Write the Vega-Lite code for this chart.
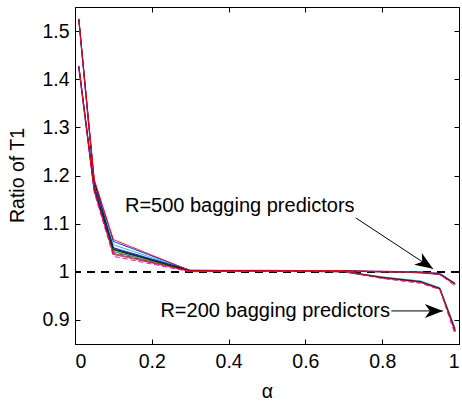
{
  "$schema": "https://vega.github.io/schema/vega-lite/v6.json",
  "width": 384,
  "height": 337,
  "autosize": "none",
  "padding": {"left": 75, "top": 7, "right": 3, "bottom": 58},
  "background": "white",
  "config": {
    "view": {"stroke": "black", "strokeWidth": 1},
    "axis": {
      "grid": false, "domainColor": "black", "tickColor": "black", "labelColor": "black", "titleColor": "black",
      "labelFont": "Liberation Sans", "titleFont": "Liberation Sans", "labelFontSize": 19.5, "titleFontSize": 19.5,
      "titleFontWeight": "normal", "tickSize": -5, "domainWidth": 1, "tickWidth": 1
    }
  },
  "datasets": {
    "curves": [
      {"series":"A1","alpha":0.01,"ratio":1.524},{"series":"A1","alpha":0.05,"ratio":1.19},{"series":"A1","alpha":0.1,"ratio":1.063},{"series":"A1","alpha":0.3,"ratio":1.003},{"series":"A1","alpha":0.5,"ratio":1.003},{"series":"A1","alpha":0.7,"ratio":1.002},{"series":"A1","alpha":0.8,"ratio":1.001},{"series":"A1","alpha":0.9,"ratio":1.0},{"series":"A1","alpha":0.95,"ratio":0.997},{"series":"A1","alpha":0.99,"ratio":0.976},
      {"series":"A2","alpha":0.01,"ratio":1.522},{"series":"A2","alpha":0.05,"ratio":1.186},{"series":"A2","alpha":0.1,"ratio":1.056},{"series":"A2","alpha":0.3,"ratio":1.003},{"series":"A2","alpha":0.5,"ratio":1.002},{"series":"A2","alpha":0.7,"ratio":1.002},{"series":"A2","alpha":0.8,"ratio":1.001},{"series":"A2","alpha":0.9,"ratio":0.999},{"series":"A2","alpha":0.95,"ratio":0.996},{"series":"A2","alpha":0.99,"ratio":0.975},
      {"series":"A3","alpha":0.01,"ratio":1.523},{"series":"A3","alpha":0.05,"ratio":1.18},{"series":"A3","alpha":0.1,"ratio":1.042},{"series":"A3","alpha":0.3,"ratio":1.002},{"series":"A3","alpha":0.5,"ratio":1.002},{"series":"A3","alpha":0.7,"ratio":1.001},{"series":"A3","alpha":0.8,"ratio":1.0},{"series":"A3","alpha":0.9,"ratio":0.999},{"series":"A3","alpha":0.95,"ratio":0.995},{"series":"A3","alpha":0.99,"ratio":0.974},
      {"series":"A4","alpha":0.01,"ratio":1.525},{"series":"A4","alpha":0.05,"ratio":1.188},{"series":"A4","alpha":0.1,"ratio":1.048},{"series":"A4","alpha":0.3,"ratio":1.002},{"series":"A4","alpha":0.5,"ratio":1.002},{"series":"A4","alpha":0.7,"ratio":1.002},{"series":"A4","alpha":0.8,"ratio":1.0},{"series":"A4","alpha":0.9,"ratio":0.998},{"series":"A4","alpha":0.95,"ratio":0.995},{"series":"A4","alpha":0.99,"ratio":0.975},
      {"series":"A5","alpha":0.01,"ratio":1.52},{"series":"A5","alpha":0.05,"ratio":1.18},{"series":"A5","alpha":0.1,"ratio":1.04},{"series":"A5","alpha":0.3,"ratio":1.001},{"series":"A5","alpha":0.5,"ratio":1.002},{"series":"A5","alpha":0.7,"ratio":1.001},{"series":"A5","alpha":0.8,"ratio":1.0},{"series":"A5","alpha":0.9,"ratio":0.998},{"series":"A5","alpha":0.95,"ratio":0.995},{"series":"A5","alpha":0.99,"ratio":0.97},
      {"series":"B1","alpha":0.01,"ratio":1.427},{"series":"B1","alpha":0.05,"ratio":1.176},{"series":"B1","alpha":0.1,"ratio":1.05},{"series":"B1","alpha":0.3,"ratio":1.003},{"series":"B1","alpha":0.5,"ratio":1.002},{"series":"B1","alpha":0.7,"ratio":1.001},{"series":"B1","alpha":0.8,"ratio":0.989},{"series":"B1","alpha":0.9,"ratio":0.98},{"series":"B1","alpha":0.95,"ratio":0.966},{"series":"B1","alpha":0.99,"ratio":0.882},
      {"series":"B2","alpha":0.01,"ratio":1.425},{"series":"B2","alpha":0.05,"ratio":1.172},{"series":"B2","alpha":0.1,"ratio":1.045},{"series":"B2","alpha":0.3,"ratio":1.002},{"series":"B2","alpha":0.5,"ratio":1.002},{"series":"B2","alpha":0.7,"ratio":1.001},{"series":"B2","alpha":0.8,"ratio":0.989},{"series":"B2","alpha":0.9,"ratio":0.981},{"series":"B2","alpha":0.95,"ratio":0.967},{"series":"B2","alpha":0.99,"ratio":0.88},
      {"series":"B3","alpha":0.01,"ratio":1.424},{"series":"B3","alpha":0.05,"ratio":1.17},{"series":"B3","alpha":0.1,"ratio":1.038},{"series":"B3","alpha":0.3,"ratio":1.002},{"series":"B3","alpha":0.5,"ratio":1.001},{"series":"B3","alpha":0.7,"ratio":1.0},{"series":"B3","alpha":0.8,"ratio":0.988},{"series":"B3","alpha":0.9,"ratio":0.979},{"series":"B3","alpha":0.95,"ratio":0.965},{"series":"B3","alpha":0.99,"ratio":0.878},
      {"series":"B4","alpha":0.01,"ratio":1.426},{"series":"B4","alpha":0.05,"ratio":1.172},{"series":"B4","alpha":0.1,"ratio":1.046},{"series":"B4","alpha":0.3,"ratio":1.002},{"series":"B4","alpha":0.5,"ratio":1.002},{"series":"B4","alpha":0.7,"ratio":1.0},{"series":"B4","alpha":0.8,"ratio":0.988},{"series":"B4","alpha":0.9,"ratio":0.979},{"series":"B4","alpha":0.95,"ratio":0.965},{"series":"B4","alpha":0.99,"ratio":0.877},
      {"series":"B5","alpha":0.01,"ratio":1.42},{"series":"B5","alpha":0.05,"ratio":1.165},{"series":"B5","alpha":0.1,"ratio":1.032},{"series":"B5","alpha":0.3,"ratio":1.0},{"series":"B5","alpha":0.5,"ratio":1.001},{"series":"B5","alpha":0.7,"ratio":1.0},{"series":"B5","alpha":0.8,"ratio":0.986},{"series":"B5","alpha":0.9,"ratio":0.976},{"series":"B5","alpha":0.95,"ratio":0.963},{"series":"B5","alpha":0.99,"ratio":0.869},
      {"series":"A6","alpha":0.01,"ratio":1.526},{"series":"A6","alpha":0.05,"ratio":1.192},{"series":"A6","alpha":0.1,"ratio":1.067},{"series":"A6","alpha":0.3,"ratio":1.002},{"series":"A6","alpha":0.5,"ratio":1.002},{"series":"A6","alpha":0.7,"ratio":1.002},{"series":"A6","alpha":0.8,"ratio":1.0},{"series":"A6","alpha":0.9,"ratio":0.998},{"series":"A6","alpha":0.95,"ratio":0.994},{"series":"A6","alpha":0.99,"ratio":0.974},
      {"series":"B6","alpha":0.01,"ratio":1.428},{"series":"B6","alpha":0.05,"ratio":1.168},{"series":"B6","alpha":0.1,"ratio":1.036},{"series":"B6","alpha":0.3,"ratio":1.001},{"series":"B6","alpha":0.5,"ratio":1.002},{"series":"B6","alpha":0.7,"ratio":1.001},{"series":"B6","alpha":0.8,"ratio":0.987},{"series":"B6","alpha":0.9,"ratio":0.978},{"series":"B6","alpha":0.95,"ratio":0.964},{"series":"B6","alpha":0.99,"ratio":0.875}
    ],
    "labels": [
      {"label": "R=500", "alpha": 0.429, "ratio": 1.1245, "text": "R=500 bagging predictors"},
      {"label": "R=200", "alpha": 0.5214, "ratio": 0.9068, "text": "R=200 bagging predictors"}
    ],
    "arrows": [
      {"label": "R=500", "x": 0.731, "y": 1.112, "tipx": 0.9323, "tipy": 1.0062},
      {"label": "R=200", "x": 0.824, "y": 0.9187, "tipx": 0.958, "tipy": 0.9187}
    ]
  },
  "layer": [
    {
      "data": {"name": "curves"},
      "mark": {"type": "rule", "color": "black", "strokeWidth": 0.8, "strokeDash": [8, 6]},
      "encoding": {
        "y": {"datum": 1, "type": "quantitative", "scale": {"domain": [0.85, 1.55], "nice": false, "zero": false}, "axis": null}
      }
    },
    {
      "data": {"name": "curves"},
      "mark": {"type": "line", "strokeWidth": 1},
      "encoding": {
        "x": {"field": "alpha", "type": "quantitative", "scale": {"domain": [0, 1], "nice": false, "zero": false},
              "axis": {"orient": "bottom", "values": [0, 0.2, 0.4, 0.6, 0.8, 1], "format": "~g", "labelPadding": 13, "title": "α", "titleY": 53, "titleBaseline": "alphabetic"}},
        "y": {"field": "ratio", "type": "quantitative", "scale": {"domain": [0.85, 1.55], "nice": false, "zero": false},
              "axis": {"orient": "left", "values": [0.9, 1, 1.1, 1.2, 1.3, 1.4, 1.5], "format": "~g", "labelPadding": 11, "title": "Ratio of T1", "titleX": -58, "titleY": 168, "titleBaseline": "middle"}},
        "color": {"field": "series", "type": "nominal", "legend": null,
                  "scale": {"domain": ["A1","A2","A3","A4","A5","A6","B1","B2","B3","B4","B5","B6"],
                            "range": ["#0000ff","#00bfbf","#008000","#000000","#ff00ff","#ff0000","#0000ff","#00bfbf","#008000","#000000","#ff00ff","#ff0000"]}},
        "strokeDash": {"field": "series", "type": "nominal", "legend": null,
                  "scale": {"domain": ["A1","A2","A3","A4","A5","A6","B1","B2","B3","B4","B5","B6"],
                            "range": [[1,0],[1,0],[1,0],[1,0],[5,3],[1,0],[1,0],[1,0],[1,0],[1,0],[5,3],[1,0]]}}
      }
    },
    {
      "data": {"name": "arrows"},
      "mark": {"type": "rule", "color": "black", "strokeWidth": 1},
      "encoding": {
        "x": {"field": "x", "type": "quantitative", "scale": {"domain": [0, 1], "nice": false, "zero": false}, "axis": null},
        "y": {"field": "y", "type": "quantitative", "scale": {"domain": [0.85, 1.55], "nice": false, "zero": false}, "axis": null},
        "x2": {"field": "tipx"},
        "y2": {"field": "tipy"}
      }
    },
    {
      "data": {"name": "arrows"},
      "transform": [{"filter": "datum.label === 'R=500'"}],
      "mark": {"type": "point", "shape": "M0,0L-1.8,-0.7L-1.3,0L-1.8,0.7Z", "size": 400, "angle": 33.4, "filled": true, "color": "black", "opacity": 1, "strokeWidth": 0},
      "encoding": {
        "x": {"field": "tipx", "type": "quantitative", "scale": {"domain": [0, 1], "nice": false, "zero": false}, "axis": null},
        "y": {"field": "tipy", "type": "quantitative", "scale": {"domain": [0.85, 1.55], "nice": false, "zero": false}, "axis": null}
      }
    },
    {
      "data": {"name": "arrows"},
      "transform": [{"filter": "datum.label === 'R=200'"}],
      "mark": {"type": "point", "shape": "M0,0L-1.8,-0.7L-1.3,0L-1.8,0.7Z", "size": 400, "angle": 0, "filled": true, "color": "black", "opacity": 1, "strokeWidth": 0},
      "encoding": {
        "x": {"field": "tipx", "type": "quantitative", "scale": {"domain": [0, 1], "nice": false, "zero": false}, "axis": null},
        "y": {"field": "tipy", "type": "quantitative", "scale": {"domain": [0.85, 1.55], "nice": false, "zero": false}, "axis": null}
      }
    },
    {
      "data": {"name": "labels"},
      "mark": {"type": "text", "font": "Liberation Sans", "fontSize": 20, "align": "center", "baseline": "alphabetic", "color": "black"},
      "encoding": {
        "x": {"field": "alpha", "type": "quantitative", "scale": {"domain": [0, 1], "nice": false, "zero": false},
              "axis": {"orient": "top", "values": [0, 0.2, 0.4, 0.6, 0.8, 1], "labels": false, "domain": false, "title": null}},
        "y": {"field": "ratio", "type": "quantitative", "scale": {"domain": [0.85, 1.55], "nice": false, "zero": false},
              "axis": {"orient": "right", "values": [0.9, 1, 1.1, 1.2, 1.3, 1.4, 1.5], "labels": false, "domain": false, "title": null}},
        "text": {"field": "text"}
      }
    }
  ],
  "resolve": {"axis": {"x": "independent", "y": "independent"}}
}
